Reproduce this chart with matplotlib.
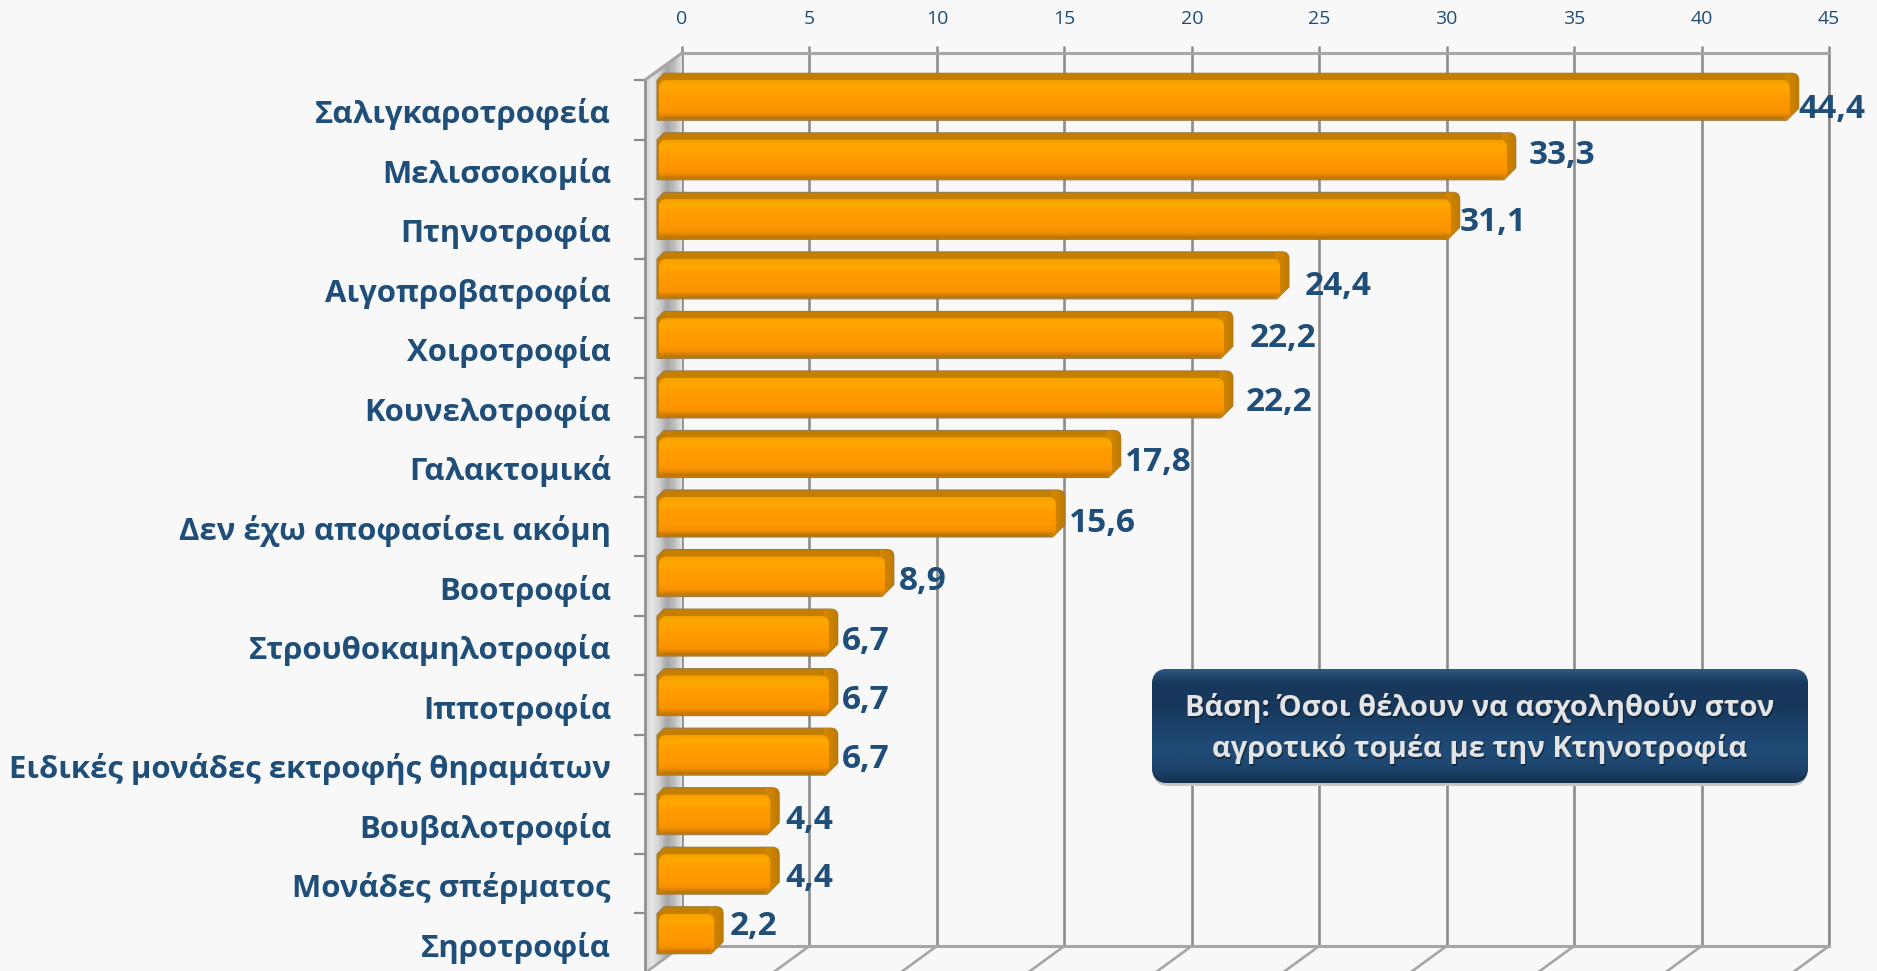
#Bar chart of livestock sector choices, drawn with a fake 3D box around it
import numpy as np
import matplotlib
matplotlib.use('Agg')
import matplotlib.pyplot as plt
from matplotlib.colors import LinearSegmentedColormap
from matplotlib.patches import FancyBboxPatch, Polygon
from matplotlib.path import Path
from matplotlib.patches import PathPatch
from matplotlib.transforms import IdentityTransform, ScaledTranslation

categories = ['Σαλιγκαροτροφεία', 'Μελισσοκομία', 'Πτηνοτροφία', 'Αιγοπροβατροφία',
              'Χοιροτροφία', 'Κουνελοτροφία', 'Γαλακτομικά', 'Δεν έχω αποφασίσει ακόμη',
              'Βοοτροφία', 'Στρουθοκαμηλοτροφία', 'Ιπποτροφία',
              'Ειδικές μονάδες εκτροφής θηραμάτων', 'Βουβαλοτροφία',
              'Μονάδες σπέρματος', 'Σηροτροφία']
values = [44.4, 33.3, 31.1, 24.4, 22.2, 22.2, 17.8, 15.6, 8.9, 6.7, 6.7, 6.7, 4.4, 4.4, 2.2]
value_labels = ['44,4', '33,3', '31,1', '24,4', '22,2', '22,2', '17,8', '15,6',
                '8,9', '6,7', '6,7', '6,7', '4,4', '4,4', '2,2']
xticks = [0, 5, 10, 15, 20, 25, 30, 35, 40, 45]
note_lines = ['Βάση: Όσοι θέλουν να ασχοληθούν στον', 'αγροτικό τομέα με την Κτηνοτροφία']

#hand nudges of the value labels, pixels (the original has them scattered)
label_dx = [0, 13, 0, 16, 17, 13, 4, 4, 5, 4, 4, 4, 6, 6, 7]
label_dy = [13, -1, 7, 11, 4, 8, 9, 10, 8, 9, 8, 8, 9, 8, -4]

W, H = 1877, 971
NAVY = '#1f4e79'
plt.rcParams['font.family'] = ['Open Sans', 'DejaVu Sans']

fig = plt.figure(figsize=(W/100, H/100), dpi=100, facecolor='#f8f8f8')
#axes box is the back wall of the 3D chart
ax = fig.add_axes([682/W, 1-946/H, (1829-682)/W, (946-53)/H])
ax.set_facecolor('none')
rows = np.arange(len(values))
ax.set_xlim(0, 45)
ax.set_ylim(len(values)-0.5, -0.5)
ID = IdentityTransform()

def gradient(stops, extent, clip, vertical=True, zorder=3):
    cmap = LinearSegmentedColormap.from_list('g', stops)
    arr = np.linspace(0, 1, 256)
    arr = arr[:, None] if vertical else arr[None, :]
    im = ax.imshow(arr, cmap=cmap, extent=extent, transform=ID, aspect='auto',
                   interpolation='bilinear', origin='upper', zorder=zorder, vmin=0, vmax=1)
    im.set_clip_box(fig.bbox)
    im.set_clip_path(clip)
    return im

ax.xaxis.tick_top()
ax.set_xticks(xticks)
ax.set_xticklabels([str(t) for t in xticks], fontsize=14, color=NAVY)
ax.tick_params(axis='x', length=5, width=1.8, color='#8c8c8c', pad=13)
ax.grid(axis='x', color='#8c8c8c', lw=1.9, zorder=0)
ax.set_axisbelow(True)
ax.set_yticks(rows)
ax.set_yticklabels(categories, fontsize=22.4, fontweight='bold', color=NAVY)
ax.tick_params(axis='y', length=0, pad=0)
shift = ScaledTranslation(-71/100, -28/100, fig.dpi_scale_trans)
for lab in ax.get_yticklabels():
    lab.set_transform(lab.get_transform() + shift)
for s in ['top', 'bottom']:
    ax.spines[s].set_color('#a6a6a6')
    ax.spines[s].set_linewidth(2.2)
ax.spines['left'].set_visible(False)
ax.spines['right'].set_color('#8c8c8c')
ax.spines['right'].set_linewidth(1.9)

#depth of the box in pixels
DX, DY = 37, 27
x0d, ytop = ax.transData.transform((0, -0.5))
ybot = ax.transData.transform((0, len(values)-0.5))[1]

#side wall
wall = Polygon([(x0d-DX, ytop-DY), (x0d, ytop), (x0d, ybot), (x0d-DX, ybot-DY)],
               closed=True, transform=ID, fc='#d8d8d8', ec='none', clip_on=False, zorder=1)
ax.add_patch(wall)
gradient(['#d4d4d4', '#e6e6e6', '#cfcfcf', '#a6a6a6', '#bdbdbd', '#e6e6e6'],
         (x0d-DX, x0d, ybot-DY, ytop), wall, vertical=False, zorder=1)

def line(xs, ys, color, lw, z=2):
    ax.plot(xs, ys, color=color, lw=lw, transform=ID, clip_on=False, zorder=z, solid_capstyle='butt')

#front edge of wall, its ticks, top diagonal and floor lines
line([x0d-DX, x0d-DX], [ytop-DY, ybot-DY], '#8c8c8c', 1.9)
line([x0d-DX, x0d], [ytop-DY, ytop], '#a6a6a6', 2.2)
for t in xticks:
    xt = ax.transData.transform((t, 0))[0]
    line([xt, xt-DX], [ybot, ybot-DY], '#a6a6a6', 1.9)
for r in np.append(rows, len(values)):
    yt = ax.transData.transform((0, r-0.5))[1] - DY
    line([x0d-DX-11, x0d-DX], [yt, yt], '#8c8c8c', 1.6)

#bars: dark extruded shape behind, gradient face in front
for r, v, txt, dx, dy in zip(rows, values, value_labels, label_dx, label_dy):
    xe, yc = ax.transData.transform((v, r))
    xs = x0d - 25
    xe = xe - 15
    yc = yc - 14           #bar centre sits lower than the back wall row
    t, b = yc+23.5, yc-23.5
    ft = t-7
    verts = [(xs, ft), (xs+7, t), (xe-7, t), (xe, t), (xe, t-7), (xe, b+12), (xe-12, b), (xs, b), (xs, ft)]
    codes = [Path.MOVETO, Path.LINETO, Path.LINETO, Path.CURVE3, Path.CURVE3,
             Path.LINETO, Path.LINETO, Path.LINETO, Path.CLOSEPOLY]
    back = PathPatch(Path(verts, codes), transform=ID, fc='#c47e00', ec='#9a7a4a', lw=0.8,
                     clip_on=False, zorder=3)
    ax.add_patch(back)
    gradient(['#d48800', '#cc8200', '#bd7a00'], (xe-14, xe, b, t), back, vertical=False, zorder=3)
    face = FancyBboxPatch((xs+2, b+1), xe-xs-11, ft-b-1, boxstyle='round,pad=0,rounding_size=8',
                          transform=ID, fc='#ff9a00', ec='none', clip_on=False, zorder=4)
    ax.add_patch(face)
    gradient(['#f5a000', '#ffa800', '#ff9d00', '#ff9a00', '#ff9800', '#f59000', '#a86c08'],
             (xs, xe-9, b, ft), face, zorder=4)
    ax.text(xe+dx, yc-dy, txt, transform=ID, fontsize=24, fontweight='bold', color=NAVY,
            ha='left', va='center', clip_on=False, zorder=6)

#note box
bx0, bx1, by0, by1 = 1152, 1808, H-783, H-669
shadow = FancyBboxPatch((bx0+1, by0-3), bx1-bx0-2, by1-by0, boxstyle='round,pad=0,rounding_size=16',
                        transform=ID, fc='#c4c4c4', ec='none', clip_on=False, zorder=6)
ax.add_patch(shadow)
box = FancyBboxPatch((bx0, by0), bx1-bx0, by1-by0, boxstyle='round,pad=0,rounding_size=16',
                     transform=ID, fc='#1a3f66', ec='none', clip_on=False, zorder=7)
ax.add_patch(box)
gradient(['#2f5a85', '#183a5e', '#17375b', '#17375b', '#1a3f66', '#1c446d', '#1f4a75', '#1f4a75', '#1c426a', '#14304f'],
         (bx0, bx1, by0, by1), box, zorder=7)
for txt, y in zip(note_lines, [708, 749]):
    ax.text((bx0+bx1)/2+1, H-y-2, txt, transform=ID, fontsize=21, fontweight='bold', color='#0c1f33',
            ha='center', va='center', zorder=8, alpha=0.7, clip_on=False)
    ax.text((bx0+bx1)/2, H-y, txt, transform=ID, fontsize=21, fontweight='bold', color='#e4e4e4',
            ha='center', va='center', zorder=9, clip_on=False)

fig.savefig('out.png', dpi=100, facecolor=fig.get_facecolor())
